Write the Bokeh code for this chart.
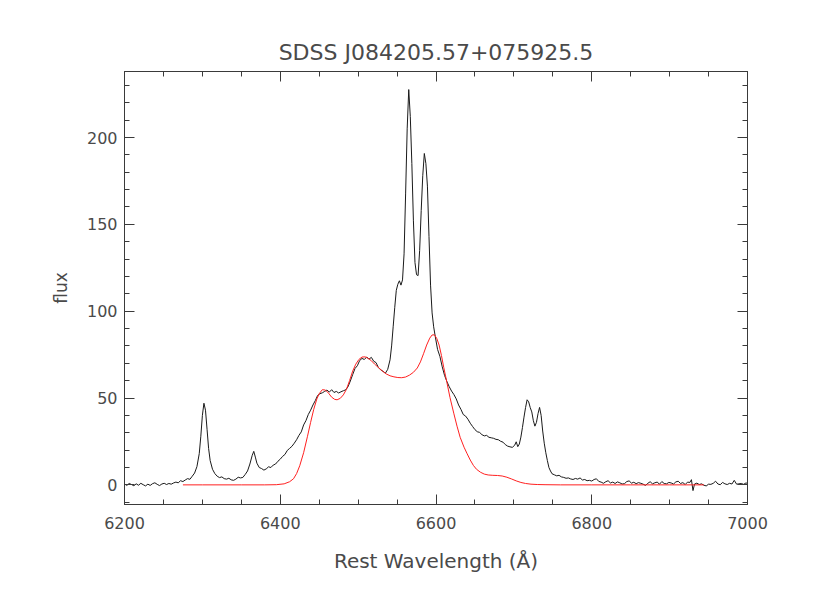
from bokeh.plotting import figure
from bokeh.models import Range1d, FixedTicker, LinearAxis, CustomLabelingPolicy
from bokeh.embed import file_html
from bokeh.resources import INLINE

title_text = "SDSS J084205.57+075925.5"
x_label = "Rest Wavelength (Å)"
y_label = "flux"

x_major = [6200, 6400, 6600, 6800, 7000]
x_minor = list(range(6200, 7001, 50))
y_major = [0, 50, 100, 150, 200]
y_minor = list(range(-10, 231, 10))

wave_obs = [6200, 6203, 6206, 6209, 6212, 6215, 6218, 6221, 6224, 6227, 6230, 6233, 6236, 6239, 6242, 6245,
            6248, 6251, 6254, 6257, 6260, 6263, 6266, 6269, 6272, 6275, 6278, 6281, 6284, 6287, 6290, 6293,
            6296, 6298, 6300, 6302, 6304, 6306, 6308, 6310, 6313, 6316, 6319, 6322, 6325, 6328, 6331, 6334,
            6337, 6340, 6343, 6346, 6349, 6352, 6355, 6358, 6361, 6364, 6366, 6368, 6370, 6373, 6376, 6379,
            6382, 6385, 6388, 6391, 6394, 6397, 6400, 6403, 6406, 6409, 6412, 6415, 6418, 6421, 6424, 6427,
            6430, 6433, 6436, 6439, 6442, 6445, 6448, 6451, 6454, 6457, 6460, 6463, 6466, 6469, 6472, 6475,
            6478, 6481, 6484, 6487, 6490, 6493, 6496, 6499, 6502, 6505, 6508, 6511, 6514, 6517, 6520, 6523,
            6526, 6529, 6532, 6535, 6538, 6541, 6543, 6545, 6547, 6549, 6551, 6553, 6555, 6557, 6559, 6561,
            6563, 6565, 6567, 6569, 6571, 6573, 6575, 6577, 6579, 6581, 6583, 6585, 6587, 6589, 6591, 6593,
            6595, 6597, 6599, 6602, 6605, 6608, 6611, 6614, 6617, 6620, 6623, 6626, 6629, 6632, 6635, 6638,
            6641, 6644, 6647, 6650, 6653, 6656, 6659, 6662, 6665, 6668, 6671, 6674, 6677, 6680, 6683, 6686,
            6689, 6692, 6695, 6698, 6701, 6703, 6705, 6707, 6709, 6711, 6713, 6715, 6717, 6719, 6721, 6723,
            6725, 6727, 6729, 6731, 6733, 6735, 6737, 6739, 6741, 6743, 6745, 6747, 6749, 6752, 6755, 6758,
            6761, 6764, 6767, 6770, 6773, 6776, 6779, 6782, 6785, 6788, 6791, 6794, 6797, 6800, 6803, 6806,
            6809, 6812, 6815, 6818, 6821, 6824, 6827, 6830, 6833, 6836, 6839, 6842, 6845, 6848, 6851, 6854,
            6857, 6860, 6863, 6866, 6869, 6872, 6875, 6878, 6881, 6884, 6887, 6890, 6893, 6896, 6899, 6902,
            6905, 6908, 6911, 6914, 6917, 6920, 6923, 6926, 6928, 6930, 6932, 6935, 6938, 6941, 6944, 6947,
            6950, 6953, 6956, 6959, 6962, 6965, 6968, 6971, 6974, 6977, 6980, 6983, 6986, 6989, 6992, 6995,
            6998, 7000]

flux_obs = [0.5, -0.3, 0.8, 0.2, -0.5, 0.6, -0.2, 0.9, 0.1, -0.6, 0.4, -0.3, 0.7, 1.2, 0.3, -0.4,
            0.5, 0.9, 0.2, 0.8, 0.4, 1.1, 1.6, 1.2, 2.4, 1.9, 2.8, 3.6, 3.2, 5.0, 6.8, 10.5,
            18.0, 28.0, 40.0, 47.0, 43.0, 32.0, 21.0, 14.0, 9.0, 6.5, 5.0, 4.2, 4.6, 3.6, 3.3, 3.8,
            2.9, 2.6, 3.3, 4.4, 4.0, 4.3, 6.0, 8.0, 12.0, 17.0, 19.3, 16.0, 12.5, 10.0, 9.4, 8.5,
            9.2, 10.4, 10.0, 11.4, 12.0, 13.6, 14.8, 16.4, 17.5, 19.8, 21.0, 22.2, 24.0, 26.0, 28.5, 30.5,
            34.5, 37.0, 40.5, 43.0, 46.0, 48.5, 51.5, 52.5, 53.0, 53.8, 54.6, 53.4, 54.8, 53.2, 53.8, 52.9,
            53.6, 54.2, 54.7, 56.5, 59.8, 63.5, 67.0, 68.6, 71.6, 72.8, 72.2, 73.6, 72.4, 73.4, 71.2, 70.4,
            67.6, 66.2, 65.4, 64.3, 66.5, 72.0, 80.0, 91.0, 102.0, 112.0, 115.5, 117.5, 115.0, 118.0, 133.0, 168.0,
            205.0, 227.6, 212.0, 185.0, 152.0, 128.0, 121.0, 120.5, 135.0, 158.0, 178.0, 190.8, 185.0, 172.0, 143.0, 115.0,
            99.0, 91.0, 85.5, 78.0, 74.0, 68.0, 63.0, 59.5, 56.5, 54.0, 52.0, 49.5, 46.0, 43.5, 40.5, 39.6,
            37.8, 35.5, 33.6, 31.8, 30.6, 30.2, 28.9, 28.2, 28.5, 27.4, 27.1, 26.8, 26.2, 26.0, 25.1, 24.6,
            23.2, 22.3, 21.9, 21.6, 22.8, 24.8, 22.0, 23.5, 27.5, 33.0, 39.0, 44.5, 49.0, 47.8, 44.5, 42.0,
            37.0, 33.8, 36.0, 41.0, 44.6, 40.0, 31.0, 24.0, 18.5, 14.0, 10.0, 8.0, 6.4, 5.8, 5.2, 5.5,
            4.6, 4.3, 3.8, 4.0, 3.4, 3.1, 3.7, 3.3, 4.0, 2.8, 3.1, 2.4, 2.6, 2.2, 3.1, 3.5,
            2.0, 1.6, 0.9, 1.8, 2.4, 1.1, 1.6, 0.8, 1.7, 1.2, 0.5, 0.7, 1.9, 2.3, 1.0, 1.5,
            0.7, 1.3, 0.9, 0.4, -0.3, 0.9, 1.8, 0.6, 1.2, 1.6, 0.4, 1.9, 0.8, 0.6, 1.4, 1.1,
            0.5, 1.7, 2.1, 0.8, 1.3, 0.2, 1.6, 1.4, 3.0, -3.3, 0.5, 1.0, 0.2, 0.6, -0.2, -0.6,
            0.4, 0.3, 0.9, 2.1, 0.5, 0.1, 1.4, 0.6, 0.2, 0.9, 0.5, 2.6, 0.4, 0.6, 0.8, 0.3,
            1.1, 0.9]

wave_model = [6275, 6300, 6350, 6380, 6395, 6405, 6412, 6417, 6421, 6425, 6430, 6435, 6439, 6443, 6447, 6450,
              6454, 6458, 6462, 6466, 6470, 6473, 6477, 6481, 6485, 6489, 6493, 6497, 6501, 6505, 6509, 6513,
              6517, 6521, 6526, 6531, 6536, 6541, 6546, 6551, 6556, 6561, 6566, 6571, 6576, 6580, 6584, 6588,
              6592, 6595, 6598, 6601, 6604, 6607, 6610, 6614, 6618, 6623, 6627, 6631, 6636, 6640, 6644, 6648,
              6652, 6657, 6662, 6667, 6673, 6679, 6685, 6691, 6697, 6703, 6709, 6715, 6722, 6730, 6740, 6760,
              6800, 6850, 6900, 6944]

flux_model = [0.0, 0.0, 0.0, 0.0, 0.1, 0.6, 1.8, 3.5, 6.5, 11.0, 18.5, 28.0, 36.0, 43.5, 49.5, 52.5,
              54.8, 54.6, 52.8, 50.5, 49.2, 49.0, 49.8, 51.8, 55.0, 60.0, 65.5, 69.5, 72.2, 73.6, 73.7, 72.8,
              71.5, 69.6, 67.6, 65.6, 63.9, 62.8, 62.2, 61.8, 61.7, 62.1, 63.2, 64.8, 67.3, 70.8, 75.5, 80.5,
              84.5, 86.3, 86.4, 84.3, 80.5, 74.5, 67.5, 59.0, 50.2, 40.9, 33.8, 27.4, 21.7, 17.9, 14.3, 11.2,
              9.0, 7.3, 6.2, 5.7, 5.5, 5.4, 5.1, 4.4, 3.4, 2.3, 1.4, 0.8, 0.4, 0.2, 0.1, 0.0,
              0.0, 0.0, 0.0, 0.0]

TXT = "#4a4a4a"
AX = "#3a3a3a"
FONT = "DejaVu Sans"

p = figure(width=822, height=585, x_range=Range1d(6200, 7000), y_range=Range1d(-11.3, 238),
           output_backend="svg", toolbar_location=None,
           min_border_left=124, min_border_right=75, min_border_top=71, min_border_bottom=81)
p.grid.visible = False
p.outline_line_color = AX
p.background_fill_color = "white"
p.border_fill_color = "white"

p.title.text = title_text
p.title.align = "center"
p.title.text_font = FONT
p.title.text_font_size = "22px"
p.title.text_font_style = "normal"
p.title.text_color = TXT
p.title.standoff = 6

no_labels = CustomLabelingPolicy(code="return new Set()")

def style_axis(ax, ticks, minor, show_labels):
    ax.ticker = FixedTicker(ticks=ticks, minor_ticks=minor)
    ax.axis_line_color = AX
    ax.major_tick_line_color = AX
    ax.minor_tick_line_color = AX
    ax.major_tick_in = 10
    ax.major_tick_out = 0
    ax.minor_tick_in = 5
    ax.minor_tick_out = 0
    ax.major_label_text_font = FONT
    ax.major_label_text_color = TXT
    ax.axis_label_text_font = FONT
    ax.axis_label_text_font_style = "normal"
    ax.axis_label_text_color = TXT
    if show_labels:
        ax.major_label_text_font_size = "16px"
    else:
        ax.major_label_text_font_size = "1px"
        ax.major_label_standoff = 0
        ax.major_label_policy = no_labels

xa = p.xaxis[0]
style_axis(xa, x_major, x_minor, True)
xa.axis_label = x_label
xa.axis_label_text_font_size = "20px"
xa.major_label_standoff = 12
xa.axis_label_standoff = 17

ya = p.yaxis[0]
style_axis(ya, y_major, y_minor, True)
ya.axis_label = y_label
ya.axis_label_text_font_size = "17px"
ya.major_label_standoff = 7
ya.axis_label_standoff = 13

top = LinearAxis()
style_axis(top, x_major, x_minor, False)
p.add_layout(top, "above")
right = LinearAxis()
style_axis(right, y_major, y_minor, False)
p.add_layout(right, "right")

p.line(wave_obs, flux_obs, line_color="#1a1a1a", line_width=1)
p.line(wave_model, flux_model, line_color="#ff2020", line_width=1)

open("out.html", "w").write(file_html(p, INLINE))
